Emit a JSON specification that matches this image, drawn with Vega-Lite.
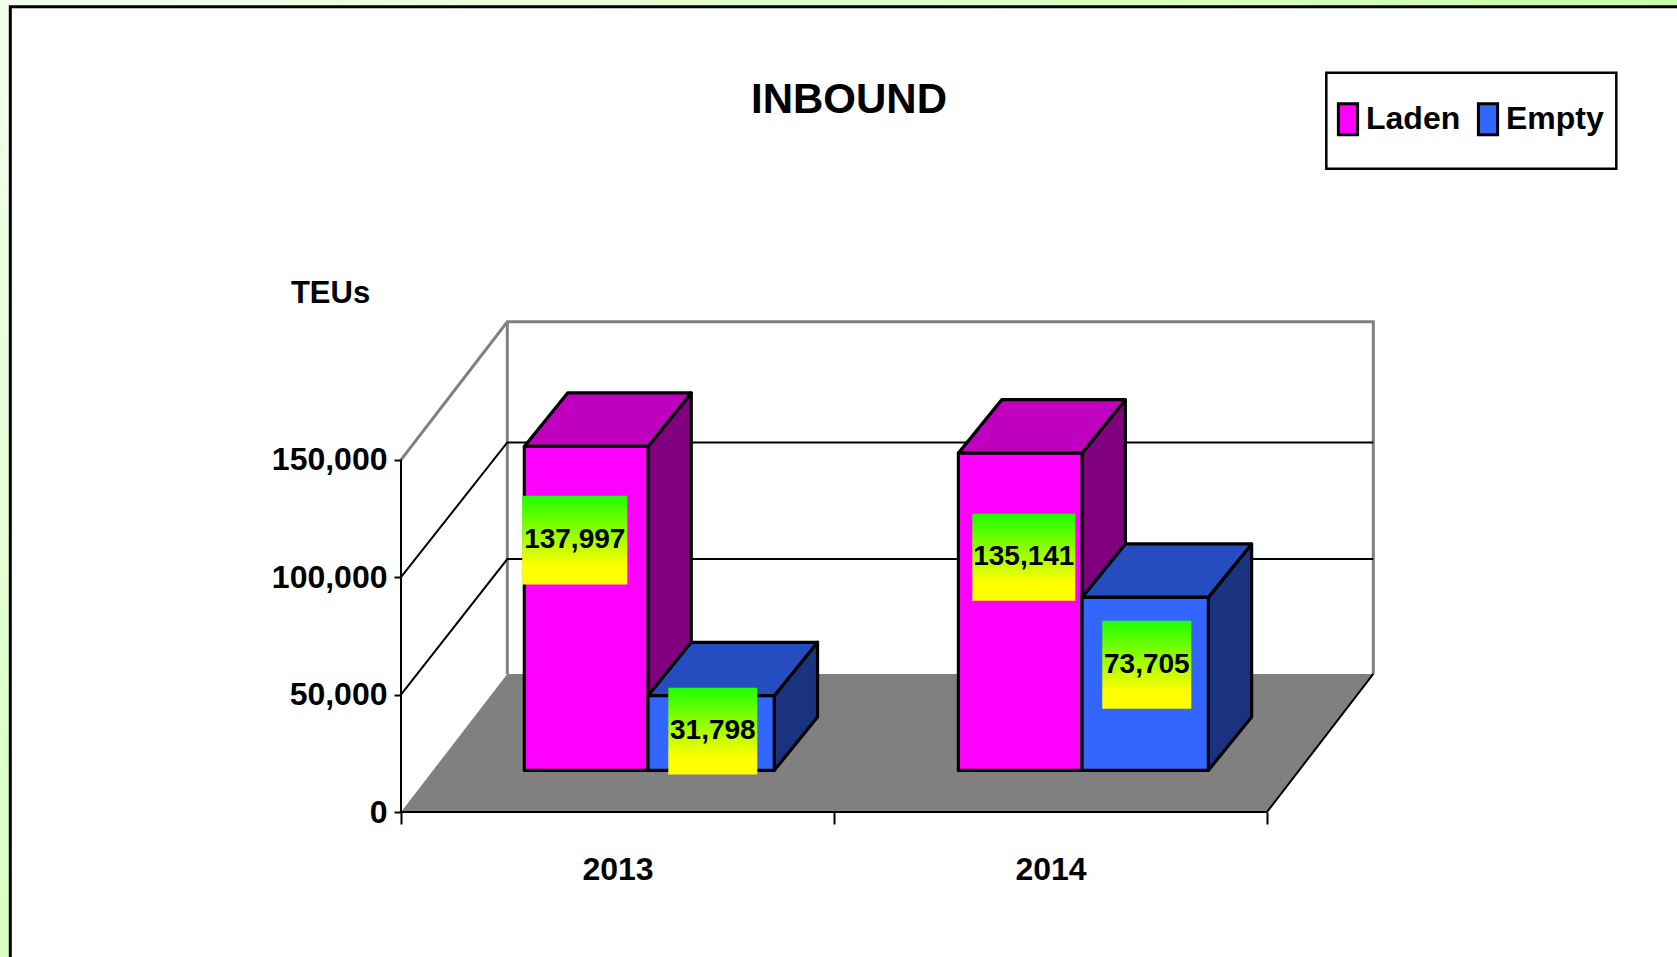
{
"$schema":"https://vega.github.io/schema/vega-lite/v6.json",
"width":972,"height":490,
"autosize":{"type":"none"},
"padding":{"left":401,"top":322,"right":304,"bottom":145},
"background":"#e4ffd0",
"config":{"view":{"stroke":null},"font":"Liberation Sans"},
"title":{"text":"INBOUND","font":"Liberation Sans","fontSize":42,"fontWeight":"bold","color":"black","anchor":"middle","frame":"group","dx":-38,"offset":-122,"zindex":1},
"layer":[
{"data":{"values":[{"x":-0.9254,"x2":2.9476,"y":345950,"y2":-61630}]},
 "mark":{"type":"rect","fill":{"gradient":"linear","x1":0,"y1":0,"x2":1,"y2":0.7,"stops":[{"offset":0,"color":"#f4fff0"},{"offset":1,"color":"#b8ff88"}]}},
 "encoding":{
  "x":{"field":"x","type":"quantitative","scale":{"domain":[0,2.2448],"nice":false,"zero":false},"axis":{"values":[0,0.5,1,1.5,2],"title":null,"domain":false,"grid":false,"zindex":1,"tickColor":"black","tickWidth":2,"tickSize":12,"tickOpacity":{"condition":{"test":"datum.value%1==0","value":1},"value":0},"labelExpr":"datum.value==0.5?'2013':datum.value==1.5?'2014':''","labelFont":"Liberation Sans","labelFontSize":32,"labelFontWeight":"bold","labelColor":"black","labelPadding":30,"labelOverlap":false,"labelFlush":false,"labelBound":false},"title":null},
  "x2":{"field":"x2"},
  "y":{"field":"y","type":"quantitative","stack":null,"title":"TEUs","scale":{"domain":[0,208700],"nice":false,"zero":false},"axis":{"values":[0,50000,100000,150000],"labelExpr":"format(datum.value,',')","title":"TEUs","titleAngle":0,"titleAlign":"center","titleBaseline":"alphabetic","titleX":-71,"titleY":-20,"titleFont":"Liberation Sans","titleFontSize":31,"titleFontWeight":"bold","titleColor":"black","domain":false,"grid":false,"zindex":1,"tickColor":"black","tickWidth":2,"tickSize":7,"labelFont":"Liberation Sans","labelFontSize":32,"labelFontWeight":"bold","labelColor":"black","labelPadding":7,"labelOverlap":false,"labelFlush":false,"labelBound":false}},
  "y2":{"field":"y2"}}},
{"data":{"values":[{"x":-0.9023,"x2":2.97,"y":342970,"y2":-64000}]},
 "mark":{"type":"rect","fill":"white","stroke":"black","strokeWidth":3},
 "encoding":{"x":{"field":"x","type":"quantitative","title":null},"x2":{"field":"x2"},"y":{"field":"y","type":"quantitative"},"y2":{"field":"y2"}}},
{"data":{"values":[{"x":2.137,"x2":2.8067,"y":314860,"y2":273980}]},
 "mark":{"type":"rect","fill":"white","stroke":"black","strokeWidth":2.5},
 "encoding":{"x":{"field":"x","type":"quantitative","title":null},"x2":{"field":"x2"},"y":{"field":"y","type":"quantitative"},"y2":{"field":"y2"}}},
{"data":{"values":[{"x":0,"x2":2,"y":0},{"x":0.2455,"x2":2.2455,"y":58800}]},
 "mark":{"type":"area","orient":"horizontal","fill":"#808080"},
 "encoding":{"x":{"field":"x","type":"quantitative","title":null},"x2":{"field":"x2"},"y":{"field":"y","type":"quantitative","stack":null}}},
{"data":{"values":[
 {"id":"w1","o":0,"x":0,"y":150000},{"id":"w1","o":1,"x":0.2455,"y":208800},{"id":"w1","o":2,"x":2.2455,"y":208800},{"id":"w1","o":3,"x":2.2455,"y":58800},
 {"id":"w2","o":0,"x":0.2455,"y":208800},{"id":"w2","o":1,"x":0.2455,"y":58800}]},
 "mark":{"type":"line","stroke":"#808080","strokeWidth":3,"strokeJoin":"miter"},
 "encoding":{"x":{"field":"x","type":"quantitative","title":null},"y":{"field":"y","type":"quantitative"},"detail":{"field":"id"},"order":{"field":"o"}}},
{"data":{"values":[
 {"id":"g1","o":0,"x":0,"y":100000},{"id":"g1","o":1,"x":0.2455,"y":157400},{"id":"g1","o":2,"x":2.2455,"y":157400},
 {"id":"g2","o":0,"x":0,"y":50000},{"id":"g2","o":1,"x":0.2455,"y":107750},{"id":"g2","o":2,"x":2.2455,"y":107750},
 {"id":"ay","o":0,"x":0,"y":0},{"id":"ay","o":1,"x":0,"y":150000},
 {"id":"ax","o":0,"x":0,"y":0},{"id":"ax","o":1,"x":2,"y":0},
 {"id":"fr","o":0,"x":2,"y":0},{"id":"fr","o":1,"x":2.2455,"y":58800}]},
 "mark":{"type":"line","stroke":"black","strokeWidth":2},
 "encoding":{"x":{"field":"x","type":"quantitative","title":null},"y":{"field":"y","type":"quantitative"},"detail":{"field":"id"},"order":{"field":"o"}}},
{"data":{"values":[
 {"year":2013,"series":"Laden","teu":137997},
 {"year":2013,"series":"Empty","teu":31798},
 {"year":2014,"series":"Laden","teu":135141},
 {"year":2014,"series":"Empty","teu":73705}]},
 "transform":[
  {"calculate":"datum.year+datum.series","as":"k"},
  {"calculate":"(datum.year-2013)*1.0025+(datum.series=='Laden'?0.2848:0.5704)","as":"x0"},
  {"calculate":"datum.x0+(datum.series=='Laden'?0.2856:0.2916)","as":"x1"},
  {"calculate":"17710","as":"base"},
  {"calculate":"datum.teu+datum.base","as":"top"}
 ],
 "layer":[
  {"transform":[{"calculate":"[0,1]","as":"t"},{"flatten":["t"]},
    {"calculate":"datum.x1+datum.t*0.1","as":"sx"},{"calculate":"datum.top+datum.t*22780","as":"sy"},{"calculate":"datum.base+datum.t*22780","as":"sy2"}],
   "mark":{"type":"area","orient":"vertical","stroke":"black","strokeWidth":3.2,"strokeJoin":"round"},
   "encoding":{"x":{"field":"sx","type":"quantitative","title":null},"y":{"field":"sy","type":"quantitative","stack":null},"y2":{"field":"sy2"},"detail":{"field":"k"},
    "fill":{"condition":{"test":"datum.series=='Laden'","value":"#800080"},"value":"#1a3380"}}},
  {"transform":[{"calculate":"[0,1]","as":"t"},{"flatten":["t"]},
    {"calculate":"datum.x0+datum.t*0.1","as":"tx"},{"calculate":"datum.x1+datum.t*0.1","as":"tx2"},{"calculate":"datum.top+datum.t*22780","as":"ty"}],
   "mark":{"type":"area","orient":"horizontal","stroke":"black","strokeWidth":3.2,"strokeJoin":"round"},
   "encoding":{"x":{"field":"tx","type":"quantitative","title":null},"x2":{"field":"tx2"},"y":{"field":"ty","type":"quantitative","stack":null},"detail":{"field":"k"},
    "fill":{"condition":{"test":"datum.series=='Laden'","value":"#bf00bf"},"value":"#264dbf"}}},
  {"mark":{"type":"rect","stroke":"black","strokeWidth":3.2,"strokeJoin":"round"},
   "encoding":{"x":{"field":"x0","type":"quantitative","title":null},"x2":{"field":"x1"},"y":{"field":"top","type":"quantitative"},"y2":{"field":"base"},
    "color":{"field":"series","type":"nominal","scale":{"domain":["Laden","Empty"],"range":["#ff00ff","#3366ff"]},
     "legend":{"title":null,"orient":"none","legendX":930,"legendY":-220,"direction":"horizontal","columns":2,"columnPadding":10,"padding":0,"symbolType":"M-0.62,-1H0.62V1H-0.62Z","symbolSize":961,"symbolStrokeColor":"black","symbolStrokeWidth":3,"symbolOpacity":1,"labelFont":"Liberation Sans","labelFontSize":32,"labelFontWeight":"bold","labelColor":"black","labelOffset":1,"labelLimit":200}}}},
  {"transform":[
    {"calculate":"{'2013Laden':0.28,'2013Empty':0.6173,'2014Laden':1.3194,'2014Empty':1.6196}[datum.k]","as":"bx0"},
    {"calculate":"{'2013Laden':0.5226,'2013Empty':0.8229,'2014Laden':1.5573,'2014Empty':1.8252}[datum.k]","as":"bx1"},
    {"calculate":"{'2013Laden':134710,'2013Empty':52940,'2014Laden':127040,'2014Empty':81470}[datum.k]","as":"by0"},
    {"calculate":"{'2013Laden':96930,'2013Empty':16010,'2014Laden':89990,'2014Empty':43990}[datum.k]","as":"by1"},
    {"calculate":"(datum.bx0+datum.bx1)/2","as":"bxc"},{"calculate":"(datum.by0+datum.by1)/2","as":"byc"}],
   "layer":[
    {"mark":{"type":"rect","fill":{"gradient":"linear","x1":0,"y1":0,"x2":0,"y2":1,"stops":[{"offset":0,"color":"#1eff00"},{"offset":0.8,"color":"#ffff00"},{"offset":1,"color":"#ffff00"}]}},
     "encoding":{"x":{"field":"bx0","type":"quantitative","title":null},"x2":{"field":"bx1"},"y":{"field":"by0","type":"quantitative"},"y2":{"field":"by1"}}},
    {"mark":{"type":"text","font":"Liberation Sans","fontSize":28,"fontWeight":"bold","color":"black","align":"center","baseline":"middle"},
     "encoding":{"x":{"field":"bxc","type":"quantitative","title":null},"y":{"field":"byc","type":"quantitative"},"text":{"field":"teu","type":"quantitative","format":","}}}
   ]}
 ]}
]}
